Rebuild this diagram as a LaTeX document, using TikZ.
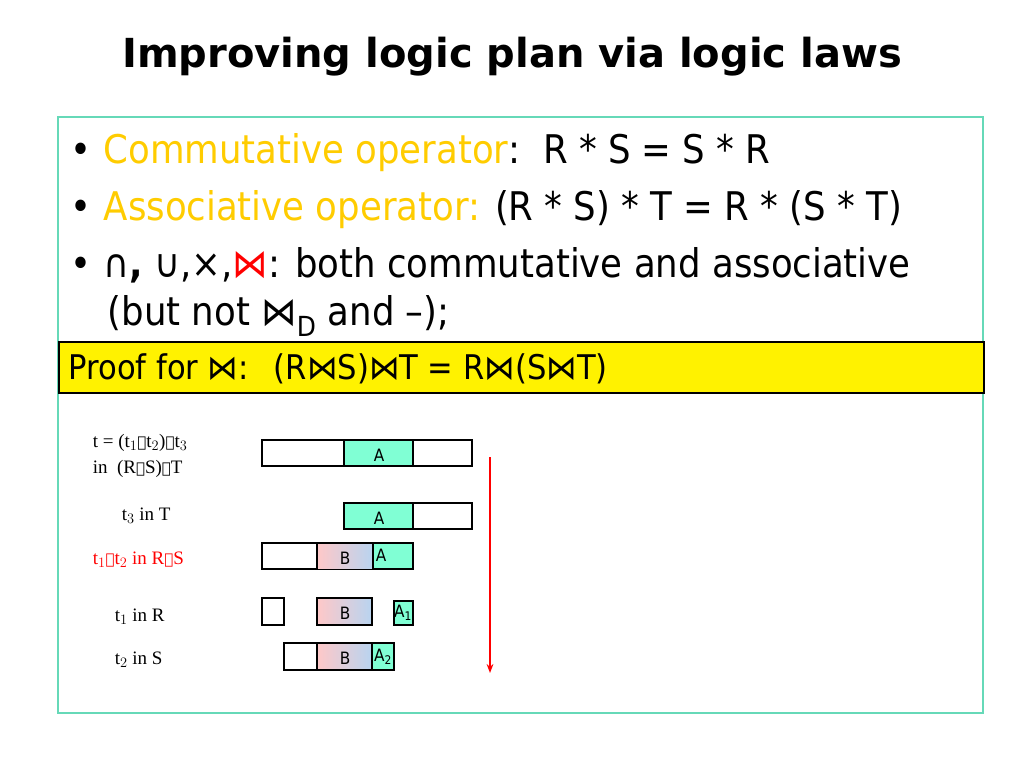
\documentclass[tikz,border=0pt]{standalone}
\usepackage{fontspec}
\setmainfont{Liberation Serif}
\newfontfamily\tahoma{DejaVu Sans Condensed}
\newfontfamily\titlefont{DejaVu Sans}
\newfontfamily\joinfont{DejaVu Serif}
\newcommand{\jn}{{\joinfont\fontsize{15}{17}\selectfont ⋈}}
\usetikzlibrary{positioning,arrows.meta}
\definecolor{frame}{HTML}{66D9B8}
\definecolor{aqua}{HTML}{80FFD4}
\definecolor{pinkB}{HTML}{FFC8C8}
\definecolor{blueB}{HTML}{B8D4F0}
\definecolor{orng}{HTML}{FFCC00}
\begin{document}
\begin{tikzpicture}[x=1pt, y=-1pt, line width=1.5pt,
  lbl/.style={font=\fontsize{19}{21}\selectfont, inner sep=0pt, anchor=base west},
  cellfont/.style={font=\tahoma\fontsize{17}{19}\selectfont},
  bullet/.style={font=\tahoma\fontsize{39.5}{42}\selectfont, inner sep=0pt, anchor=base west}]
\useasboundingbox (0,0) rectangle (1024,768);
% title
\node (title) at (512,57) {\titlefont\bfseries\fontsize{40}{44}\selectfont Improving logic plan via logic laws};
% frame
\draw[frame] (58,117) rectangle (983,713);
% bullets
\node[bullet] (b1) at (70,163) {•\hspace{12pt}\textcolor{orng}{Commutative operator}:\ \ R * S = S * R};
\node[bullet] (b2) at (70,220) {•\hspace{12pt}\textcolor{orng}{Associative operator:} (R * S) * T = R * (S * T)};
\node[bullet] (b3) at (70,277) {•\hspace{12pt}∩\textbf{,} ∪,×,\textcolor{red}{⋈}: both commutative and associative};
\node[bullet] (b4) at (107,325) {(but not ⋈\textsubscript{D} and –);};
% proof box
\node[draw, fill=yellow, minimum width=925pt, minimum height=51pt, anchor=north west, inner sep=0pt] (proof) at (58,341) {};
\node[font=\tahoma\fontsize{34}{36}\selectfont, inner sep=0pt, anchor=base west] (prooftxt) at (68,379) {Proof for ⋈:\hspace{25pt}(R⋈S)⋈T = R⋈(S⋈T)};
% labels
\node[lbl] (l1a) at (92,447) {t = (t$_1$\jn t$_2$)\jn t$_3$};
\node[lbl] (l1b) at (92,473) {in\ \ (R\jn S)\jn T};
\node[lbl] (l2) at (121,520) {t$_3$ in T};
\node[lbl, red] (l3) at (92,564) {t$_1$\jn t$_2$ in R\jn S};
\node[lbl] (l4) at (114,621) {t$_1$ in R};
\node[lbl] (l5) at (114,664) {t$_2$ in S};
% row 1
\draw (262,440) rectangle (472,466);
\draw[fill=aqua] (344,440) rectangle (413,466);
\node[cellfont] (a1) at (379,455) {A};
% row 2
\draw (344,503) rectangle (472,529);
\draw[fill=aqua] (344,503) rectangle (413,529);
\node[cellfont] (a2) at (379,518) {A};
% row 3
\draw (262,543) rectangle (413,569);
\shade[left color=pinkB, right color=blueB] (317,544) rectangle (373,568);
\draw (317,543) -- (317,569);
\draw[fill=aqua] (373,543) rectangle (413,569);
\node[cellfont] (b3r) at (345,558) {B};
\node[cellfont] (a3) at (381,555) {A};
% row 4
\draw (262,598) rectangle (284,625);
\shade[left color=pinkB, right color=blueB] (317,598) rectangle (372,625);
\draw (317,598) rectangle (372,625);
\draw[fill=aqua] (394,601) rectangle (413,625);
\node[cellfont] (b4r) at (345,613) {B};
\node[cellfont] (a4) at (403,613) {A\textsubscript{1}};
% row 5
\draw (284,643) rectangle (394,670);
\shade[left color=pinkB, right color=blueB] (317,643) rectangle (372,670);
\draw (317,643) rectangle (372,670);
\draw[fill=aqua] (372,643) rectangle (394,670);
\node[cellfont] (b5r) at (345,658) {B};
\node[cellfont] (a5) at (383,657) {A\textsubscript{2}};
% arrow
\coordinate (top) at (490,457);
\coordinate (bot) at (490,673);
\draw[red, line width=2pt, -{Stealth[length=9pt]}] (top) -- (bot);
\end{tikzpicture}
\end{document}
